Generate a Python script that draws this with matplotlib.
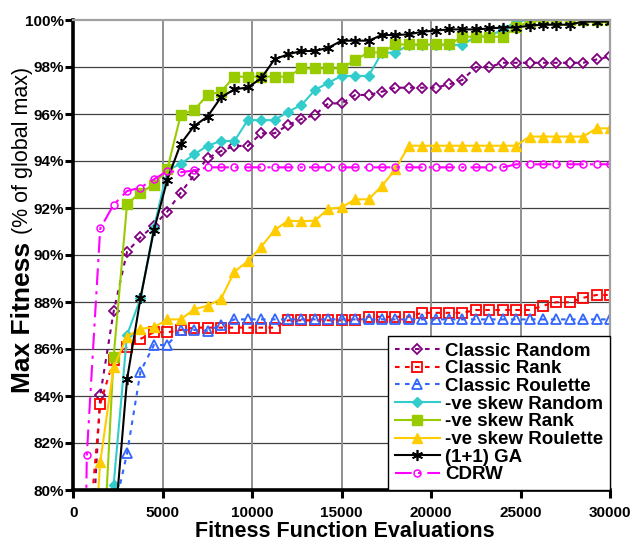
import matplotlib

matplotlib.use("Agg")
import matplotlib.pyplot as plt
import numpy as np

# evaluations sampled every 750 calls, 0 .. 30000
evals = np.arange(0, 30001, 750)

classic_random = [50.0, 73.7, 84.04, 87.6, 90.14, 90.75, 91.25, 91.85, 92.65, 93.4,
                  94.12, 94.42, 94.64, 94.64, 95.18, 95.18, 95.53, 95.79, 95.96, 96.45,
                  96.45, 96.81, 96.81, 96.95, 97.12, 97.12, 97.12, 97.12, 97.26, 97.45,
                  98.0, 98.0, 98.18, 98.18, 98.18, 98.18, 98.18, 98.18, 98.18, 98.32,
                  98.45]
classic_rank = [50.0, 77.1, 83.66, 85.55, 86.1, 86.43, 86.71, 86.71, 86.81, 86.91,
                86.91, 86.91, 86.91, 86.91, 86.91, 86.91, 87.22, 87.22, 87.22, 87.22,
                87.22, 87.22, 87.37, 87.37, 87.37, 87.37, 87.54, 87.54, 87.54, 87.54,
                87.66, 87.66, 87.66, 87.66, 87.66, 87.84, 87.99, 87.99, 88.18, 88.3,
                88.3]
classic_roulette = [50.0, 65.0, 72.0, 79.0, 81.56, 85.04, 86.17, 86.17, 86.81, 86.81,
                    86.78, 87.02, 87.26, 87.26, 87.26, 87.26, 87.26, 87.26, 87.26, 87.26,
                    87.26, 87.26, 87.26, 87.26, 87.26, 87.26, 87.26, 87.26, 87.26, 87.26,
                    87.26, 87.26, 87.26, 87.26, 87.26, 87.26, 87.26, 87.26, 87.26, 87.26,
                    87.26]
skew_random = [50.0, 62.0, 72.0, 80.23, 86.6, 88.15, 91.15, 93.6, 93.88, 94.28,
               94.65, 94.85, 94.85, 95.74, 95.74, 95.74, 96.1, 96.38, 97.02, 97.33,
               97.62, 97.62, 97.62, 98.61, 98.61, 98.94, 98.94, 98.94, 98.94, 98.94,
               99.3, 99.3, 99.6, 99.93, 100.0, 100.0, 100.0, 100.0, 100.0, 100.0,
               100.0]
skew_rank = [50.0, 62.0, 74.7, 85.67, 92.17, 92.65, 93.0, 93.65, 95.96, 96.17,
             96.81, 96.95, 97.59, 97.59, 97.59, 97.59, 97.59, 97.94, 97.94, 97.94,
             97.94, 98.3, 98.62, 98.62, 98.96, 98.96, 98.96, 98.96, 98.96, 99.29,
             99.29, 99.29, 99.29, 99.69, 99.93, 100.0, 100.0, 100.0, 100.0, 100.0,
             100.0]
skew_roulette = [50.0, 72.9, 81.18, 85.23, 86.53, 86.86, 86.92, 87.26, 87.26, 87.69,
                 87.84, 88.13, 89.29, 89.73, 90.35, 91.06, 91.46, 91.44, 91.46, 91.96,
                 92.03, 92.37, 92.37, 92.94, 93.65, 94.65, 94.65, 94.65, 94.65, 94.65,
                 94.65, 94.65, 94.65, 94.65, 95.04, 95.04, 95.04, 95.04, 95.04, 95.39,
                 95.39]
one_plus_one = [50.0, 62.0, 70.0, 77.9, 84.71, 88.16, 91.05, 93.2, 94.73, 95.49,
                95.89, 96.71, 97.05, 97.13, 97.52, 98.33, 98.54, 98.68, 98.68, 98.82,
                99.12, 99.12, 99.12, 99.36, 99.36, 99.39, 99.5, 99.55, 99.6, 99.6,
                99.6, 99.64, 99.68, 99.68, 99.76, 99.8, 99.8, 99.8, 99.93, 99.93,
                99.93]
cdrw = [40.0, 81.5, 91.13, 92.14, 92.72, 92.87, 93.22, 93.57, 93.52, 93.6,
        93.73, 93.73, 93.73, 93.73, 93.73, 93.73, 93.73, 93.73, 93.73, 93.73,
        93.73, 93.73, 93.73, 93.73, 93.73, 93.73, 93.73, 93.73, 93.73, 93.73,
        93.73, 93.73, 93.73, 93.86, 93.86, 93.86, 93.86, 93.86, 93.86, 93.86,
        93.86]

x_ticks = [0, 5000, 10000, 15000, 20000, 25000, 30000]
y_ticks = [80, 82, 84, 86, 88, 90, 92, 94, 96, 98, 100]

plt.rcParams["font.family"] = ["Liberation Sans", "DejaVu Sans"]

W, H = 632, 542
fig = plt.figure(figsize=(W / 100, H / 100), dpi=100)
L, R, T, B = 73.4, 610.0, 20.0, 490.0
ax = fig.add_axes([L / W, 1 - B / H, (R - L) / W, (B - T) / H])

dash = (0, (2.2, 2.6))
series = [
    ("Classic Random", classic_random, dict(color="#800080", ls=dash, marker="D",
                                            ms=5, mfc="none", mew=1.3)),
    ("Classic Rank", classic_rank, dict(color="#FF0000", ls=dash, marker="s",
                                        ms=6.5, mfc="none", mew=1.3)),
    ("Classic Roulette", classic_roulette, dict(color="#3366FF", ls=dash, marker="^",
                                                ms=6.5, mfc="none", mew=1.3)),
    ("-ve skew Random", skew_random, dict(color="#33CCCC", ls="-", marker="D", ms=5)),
    ("-ve skew Rank", skew_rank, dict(color="#99CC00", ls="-", marker="s", ms=7)),
    ("-ve skew Roulette", skew_roulette, dict(color="#FFCC00", ls="-", marker="^", ms=7.5)),
    ("(1+1) GA", one_plus_one, dict(color="black", ls="-", marker=(6, 2, 0), ms=8,
                                    mew=1.2)),
    ("CDRW", cdrw, dict(color="#FF00FF", ls=(0, (8, 3, 1.5, 3)), marker="o", ms=5,
                        mfc="none", mew=1.1)),
]
for label, vals, style in series:
    ax.plot(evals, vals, lw=1.5, label=label, **style)

ax.set_xlim(0, 30000)
ax.set_ylim(80, 100)
ax.set_xticks(x_ticks)
ax.set_yticks(y_ticks)
ax.set_xticklabels([str(v) for v in x_ticks], fontsize=11, fontweight="bold")
ax.set_yticklabels([f"{v}%" for v in y_ticks], fontsize=11, fontweight="bold")
ax.tick_params(axis="both", direction="out", length=6, width=2.2)
ax.tick_params(axis="x", pad=5.5)
ax.tick_params(axis="y", pad=1)

# horizontal grid darker than the vertical one
for v in y_ticks[1:-1]:
    ax.axhline(v, color="#404040", lw=0.9, zorder=0)
for v in x_ticks[1:-1]:
    ax.axvline(v, color="#909090", lw=1.4, zorder=0)

for side in ("left", "bottom"):
    ax.spines[side].set_linewidth(2.6)
    ax.spines[side].set_color("black")
for side in ("top", "right"):
    ax.spines[side].set_linewidth(1.6)
    ax.spines[side].set_color("#A0A0A0")

ax.set_xlabel("Fitness Function Evaluations", fontsize=15.5, fontweight="bold")
ax.xaxis.set_label_coords((345 - L) / (R - L), (B - 521) / (B - T))

ax.text((23 - L) / (R - L), (B - 393) / (B - T), "Max Fitness", rotation=90,
        transform=ax.transAxes, ha="center", va="bottom", fontsize=19,
        fontweight="bold")
ax.text((23 - L) / (R - L), (B - 67) / (B - T), "(% of global max)", rotation=90,
        transform=ax.transAxes, ha="center", va="top", fontsize=15.5)

leg = ax.legend(loc="lower right", bbox_to_anchor=(1.0, 0.0), borderaxespad=0,
                prop=dict(size=13.5, weight="bold"), numpoints=1, handlelength=2.4,
                handletextpad=0.3, labelspacing=0.03, borderpad=0.35,
                fancybox=False, framealpha=1, edgecolor="black")
leg.get_frame().set_linewidth(1.0)

fig.savefig("out.png", dpi=100)
